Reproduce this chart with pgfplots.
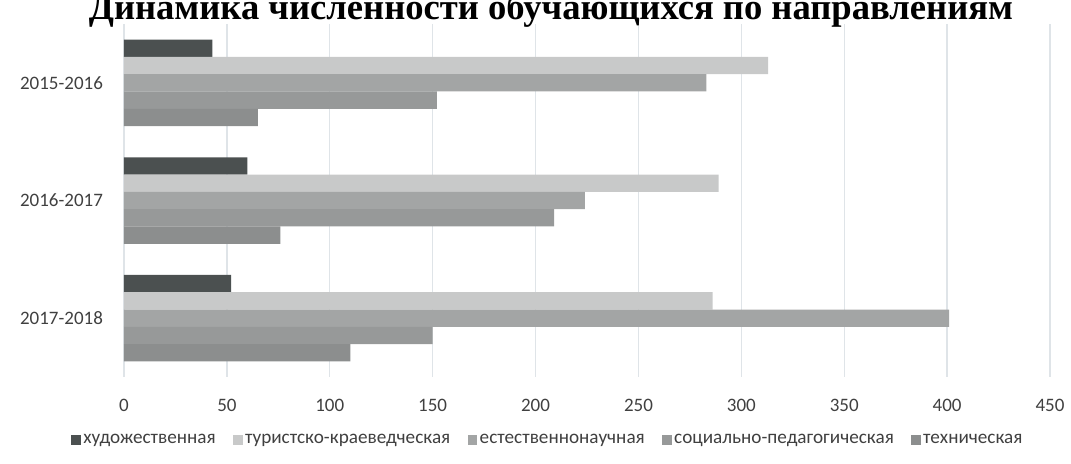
\documentclass[border=0pt]{standalone}
\usepackage{fontspec}
\setmainfont{Carlito}
\newfontfamily\titlefont{Liberation Serif}
\usepackage{pgfplots}
\pgfplotsset{compat=1.18}
\definecolor{c1}{HTML}{4B5050}
\definecolor{c2}{HTML}{C8C9C9}
\definecolor{c3}{HTML}{A3A5A5}
\definecolor{c4}{HTML}{979999}
\definecolor{c5}{HTML}{8C8E8E}
\definecolor{gridc}{HTML}{DFE4E8}
\definecolor{tickc}{HTML}{404040}
\pgfplotsset{sqlegend/.style={legend image code/.code={\fill[##1] (0pt,-2.4pt) rectangle (4.8pt,2.4pt);}}}
\begin{document}
\begin{tikzpicture}
\begin{axis}[
  at={(62pt,-188.5pt)}, anchor=south west,
  scale only axis, width=463pt, height=176.5pt,
  xmin=0, xmax=450, ymin=-0.5, ymax=2.5, y dir=reverse,
  xbar=0pt, bar width=8.65pt,
  xtick={0,50,...,450}, ytick={0,1,2},
  yticklabels={2015-2016,2016-2017,2017-2018},
  xmajorgrids, major grid style={color=gridc, line width=0.7pt},
  axis line style={draw=none}, major tick length=0pt,
  tick label style={font=\fontsize{9.5}{11}\selectfont, color=tickc},
  xticklabel style={yshift=-7.5pt},
  yticklabel style={xshift=-7pt},
  /pgf/number format/assume math mode=true,
  legend columns=-1,
  legend style={draw=none, at={(0.458,-0.178)}, anchor=center,
    font=\fontsize{9.6}{11}\selectfont, text=tickc,
    /tikz/every even column/.append style={column sep=7.5pt},
    inner sep=0pt, nodes={inner sep=1.2pt}},
]
\addplot[sqlegend, fill=c1, draw=none, bar shift=17.3pt] coordinates {(43,0) (60,1) (52,2)};
\addplot[sqlegend, fill=c2, draw=none, bar shift=8.65pt] coordinates {(313,0) (289,1) (286,2)};
\addplot[sqlegend, fill=c3, draw=none, bar shift=0pt] coordinates {(283,0) (224,1) (401,2)};
\addplot[sqlegend, fill=c4, draw=none, bar shift=-8.65pt] coordinates {(152,0) (209,1) (150,2)};
\addplot[sqlegend, fill=c5, draw=none, bar shift=-17.3pt] coordinates {(65,0) (76,1) (110,2)};
\legend{художественная, туристско-краеведческая, естественнонаучная, социально-педагогическая, техническая}
\end{axis}
\node[anchor=base, font=\titlefont\bfseries\fontsize{18.3}{19}\selectfont] at (275.5pt,-10pt) {Динамика  численности обучающихся по направлениям};
\pgfresetboundingbox
\useasboundingbox (0,0) rectangle (535.5pt,-232pt);
\end{tikzpicture}
\end{document}
